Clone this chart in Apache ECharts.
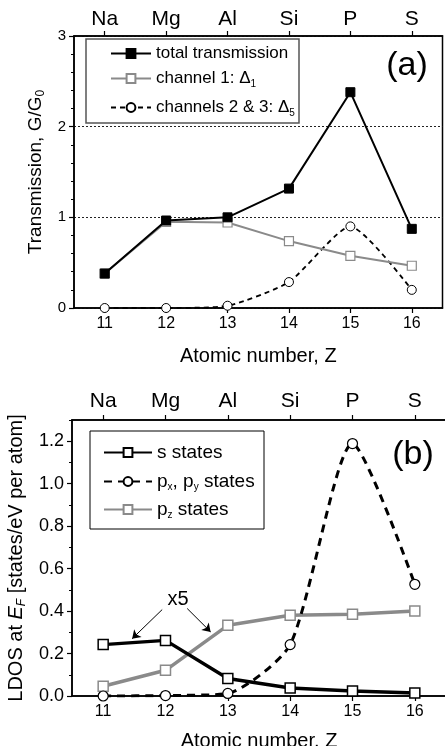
<!DOCTYPE html>
<html><head><meta charset="utf-8">
<script src="https://cdn.jsdelivr.net/npm/echarts@6/dist/echarts.min.js"></script>
<style>html,body{margin:0;padding:0;background:#fff}#c{width:445px;height:746px}</style>
</head><body><div id="c"></div>
<script>
// ---------- data ----------
const atomicNumbers = [11, 12, 13, 14, 15, 16];
const elements = ['Na', 'Mg', 'Al', 'Si', 'P', 'S'];
const totalTransmission = [0.38, 0.965, 1.0, 1.317, 2.38, 0.873];
const channel1 = [0.38, 0.95, 0.943, 0.738, 0.576, 0.466];
const channels23 = [0.0, 0.0, 0.025, 0.286, 0.90, 0.20];
const sStates = [0.242, 0.262, 0.082, 0.038, 0.024, 0.014];
const pxpyStates = [0.0, 0.002, 0.012, 0.242, 1.189, 0.526];
const pzStates = [0.046, 0.121, 0.333, 0.38, 0.385, 0.40];
const topYTicks = [0, 1, 2, 3];
const bottomYTicks = [0, 0.2, 0.4, 0.6, 0.8, 1.0, 1.2];

// ---------- helpers ----------
const F = '"Liberation Sans", Arial, sans-serif';
const pair = arr => atomicNumbers.map((z, i) => [z, arr[i]]);
const GRAY = '#8a8a8a';

function xBottom(grid, name, gap) {
  return {
    type: 'value', gridIndex: grid, min: 10.5, max: 16.5, position: 'bottom',
    axisLine: { show: true, onZero: false, lineStyle: { color: '#000', width: 1.5 } },
    axisTick: { show: true, length: 5, customValues: atomicNumbers, lineStyle: { color: '#000', width: 1.2 } },
    axisLabel: { customValues: atomicNumbers, fontSize: 16, color: '#000', margin: 8, fontFamily: F },
    splitLine: { show: false },
    name: name, nameLocation: 'middle', nameGap: gap,
    nameTextStyle: { fontSize: 20, color: '#000', fontFamily: F }
  };
}
function xTop(grid, fs, margin) {
  return {
    type: 'value', gridIndex: grid, min: 10.5, max: 16.5, position: 'top',
    axisLine: { show: true, onZero: false, lineStyle: { color: '#000', width: 1.5 } },
    axisTick: { show: true, length: 5, customValues: atomicNumbers, lineStyle: { color: '#000', width: 1.2 } },
    axisLabel: { customValues: atomicNumbers, fontSize: fs, color: '#000', margin: margin, fontFamily: F,
      formatter: v => elements[atomicNumbers.indexOf(Math.round(v))] },
    splitLine: { show: false }
  };
}

const richLegend = (fs) => ({
  t: { fontSize: fs, lineHeight: 20, fontFamily: F, color: '#000' },
  s: { fontSize: 10, lineHeight: 10, padding: [11, 0, 0, 0], fontFamily: F, color: '#000' }
});
const legendText = {
  'total transmission': '{t|total transmission}',
  'channel 1': '{t|channel 1: Δ}{s|1}',
  'channels 2 & 3': '{t|channels 2 & 3: Δ}{s|5}',
  's states': '{t|s states}',
  'px, py states': '{t|p}{s|x}{t|, p}{s|y}{t| states}',
  'pz states': '{t|p}{s|z}{t| states}'
};
function leg(name, left, top, fs, w) {
  return {
    data: [name], left: left, top: top, orient: 'horizontal', padding: 0,
    itemWidth: w, itemHeight: 11, selectedMode: false,
    formatter: n => legendText[n],
    textStyle: { fontFamily: F, color: '#000', fontSize: fs, rich: richLegend(fs) }
  };
}

const chart = echarts.init(document.getElementById('c'), null, { renderer: 'canvas' });
chart.setOption({
  animation: false,
  backgroundColor: '#fff',
  grid: [
    { left: 74, top: 36, width: 368.5, height: 272, show: true, borderColor: '#000', borderWidth: 1.5,
      containLabel: false, outerBoundsMode: 'none' },
    { left: 72, top: 420, width: 374, height: 276, show: true, borderColor: '#000', borderWidth: 1.5,
      containLabel: false, outerBoundsMode: 'none' }
  ],
  xAxis: [
    xBottom(0, 'Atomic number, Z', 38),
    xTop(0, 21, 6),
    xBottom(1, 'Atomic number. Z', 35),
    xTop(1, 21, 8)
  ],
  yAxis: [
    {
      type: 'value', gridIndex: 0, min: 0, max: 3, interval: 1,
      axisLine: { show: true, onZero: false, lineStyle: { color: '#000', width: 1.5 } },
      axisTick: { show: true, length: 5, customValues: topYTicks, lineStyle: { color: '#000', width: 1.2 } },
      minorTick: { show: true, splitNumber: 5, length: 3, lineStyle: { color: '#000', width: 1 } },
      axisLabel: { customValues: topYTicks, fontSize: 15, color: '#000', margin: 8, fontFamily: F },
      splitLine: { show: true, lineStyle: { color: '#222', width: 1, type: [2, 2] } },
      name: '{t|Transmission, G/G}{s|0}', nameLocation: 'middle', nameGap: 26,
      nameTextStyle: { fontFamily: F, color: '#000', fontSize: 19,
        rich: { t: { fontSize: 19, lineHeight: 22, fontFamily: F, color: '#000' },
                s: { fontSize: 12, lineHeight: 12, padding: [10, 0, 0, 0], fontFamily: F, color: '#000' } } }
    },
    {
      type: 'value', gridIndex: 1, min: 0, max: 1.3, interval: 0.2,
      axisLine: { show: true, onZero: false, lineStyle: { color: '#000', width: 1.5 } },
      axisTick: { show: true, length: 5, customValues: bottomYTicks, lineStyle: { color: '#000', width: 1.2 } },
      minorTick: { show: true, splitNumber: 2, length: 3, lineStyle: { color: '#000', width: 1 } },
      axisLabel: { customValues: bottomYTicks, fontSize: 18, color: '#000', margin: 8, fontFamily: F,
        formatter: v => Number(v).toFixed(1) },
      splitLine: { show: false },
      name: '{t|LDOS at }{i|E}{is|F}{t| [states/eV per atom]}', nameLocation: 'middle', nameGap: 37,
      nameTextStyle: { fontFamily: F, color: '#000', fontSize: 20,
        rich: { t: { fontSize: 20, lineHeight: 22, fontFamily: F, color: '#000' },
                i: { fontSize: 20, lineHeight: 22, fontStyle: 'italic', fontFamily: F, color: '#000' },
                is: { fontSize: 12, lineHeight: 12, padding: [11, 0, 0, 0], fontStyle: 'italic', fontFamily: F, color: '#000' } } }
    }
  ],
  legend: [
    leg('total transmission', 110, 45, 17, 40),
    leg('channel 1', 110, 68, 17, 40),
    leg('channels 2 & 3', 110, 97, 17, 40),
    leg('s states', 103, 443, 19, 48),
    leg('px, py states', 103, 471, 19, 48),
    leg('pz states', 103, 499, 19, 48)
  ],
  series: [
    { name: 'channels 2 & 3', type: 'line', xAxisIndex: 0, yAxisIndex: 0, data: pair(channels23),
      smooth: 0.2, symbol: 'circle', symbolSize: 9,
      lineStyle: { color: '#000', width: 1.8, type: [5, 4] },
      itemStyle: { color: '#fff', borderColor: '#000', borderWidth: 1 }, z: 3 },
    { name: 'channel 1', type: 'line', xAxisIndex: 0, yAxisIndex: 0, data: pair(channel1),
      symbol: 'rect', symbolSize: 9,
      lineStyle: { color: GRAY, width: 2 },
      itemStyle: { color: '#fff', borderColor: GRAY, borderWidth: 1.2 }, z: 4 },
    { name: 'total transmission', type: 'line', xAxisIndex: 0, yAxisIndex: 0, data: pair(totalTransmission),
      symbol: 'rect', symbolSize: 9,
      lineStyle: { color: '#000', width: 2 },
      itemStyle: { color: '#000', borderColor: '#000', borderWidth: 1 }, z: 5 },

    { name: 'pz states', type: 'line', xAxisIndex: 2, yAxisIndex: 1, data: pair(pzStates),
      symbol: 'rect', symbolSize: 10,
      lineStyle: { color: GRAY, width: 3.5 },
      itemStyle: { color: '#fff', borderColor: GRAY, borderWidth: 1.5 }, z: 3 },
    { name: 'px, py states', type: 'line', xAxisIndex: 2, yAxisIndex: 1, data: pair(pxpyStates),
      smooth: 0.22, symbol: 'circle', symbolSize: 10,
      lineStyle: { color: '#000', width: 3, type: [8, 6] },
      itemStyle: { color: '#fff', borderColor: '#000', borderWidth: 1.2 }, z: 4 },
    { name: 's states', type: 'line', xAxisIndex: 2, yAxisIndex: 1, data: pair(sStates),
      symbol: 'rect', symbolSize: 10,
      lineStyle: { color: '#000', width: 3.5 },
      itemStyle: { color: '#fff', borderColor: '#000', borderWidth: 1.5 }, z: 5,
      markLine: {
        silent: true, symbol: ['none', 'arrow'], symbolSize: 8,
        label: { show: false },
        lineStyle: { color: '#000', width: 1, type: 'solid' },
        data: [
          [{ coord: [11.947, 0.407] }, { coord: [11.465, 0.270] }],
          [{ coord: [12.348, 0.412] }, { coord: [12.724, 0.302] }]
        ]
      } }
  ],
  graphic: [
    { type: 'rect', shape: { x: 86, y: 39, width: 213, height: 84 }, style: { fill: 'none', stroke: '#555', lineWidth: 1.5 }, z: 100 },
    { type: 'rect', shape: { x: 90, y: 431, width: 174, height: 98 }, style: { fill: 'none', stroke: '#000', lineWidth: 1 }, z: 100 },
    { type: 'text', style: { text: '(a)', x: 407, y: 66, align: 'center', verticalAlign: 'middle', font: '34px ' + F, fill: '#000' }, z: 100 },
    { type: 'text', style: { text: '(b)', x: 413, y: 455, align: 'center', verticalAlign: 'middle', font: '34px ' + F, fill: '#000' }, z: 100 },
    { type: 'text', style: { text: 'x5', x: 178, y: 599, align: 'center', verticalAlign: 'middle', font: '20px ' + F, fill: '#000' }, z: 100 }
  ]
});
</script></body></html>
